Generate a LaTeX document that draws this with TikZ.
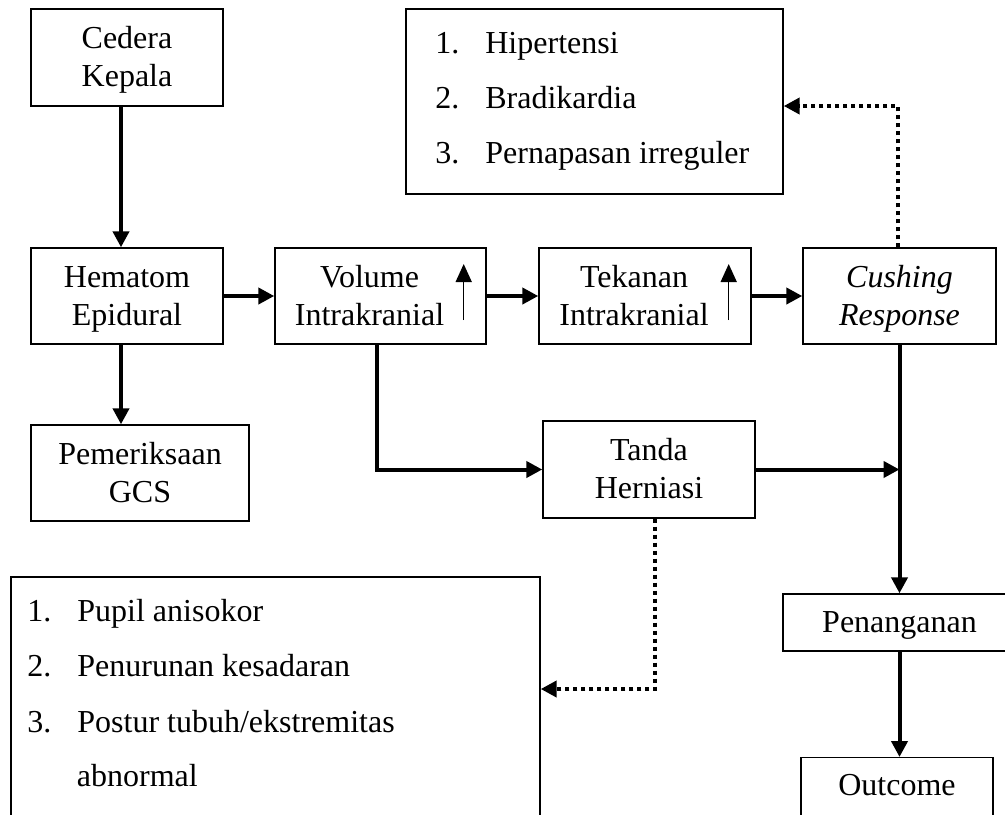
\documentclass[tikz,border=0pt]{standalone}
\usepackage{fontspec}
\setmainfont{Liberation Serif}
\usetikzlibrary{arrows.meta}
\newcommand{\stratas}{\rule{0pt}{14pt}}
\newcommand{\strbawah}{\rule[-3.6pt]{0pt}{0pt}}

\begin{document}
\begin{tikzpicture}[x=0.5pt,y=-0.5pt,
    box/.style={draw, line width=0.7pt, inner sep=0pt, align=center, font=\fontsize{16}{19}\selectfont},
    txt/.style={inner sep=0pt, align=center, font=\fontsize{16}{19}\selectfont},
    item/.style={inner sep=0pt, anchor=base west, font=\fontsize{16}{19}\selectfont},
    arr/.style={line width=2pt, -{Triangle[length=8pt,width=8pt]}},
    dotarr/.style={line width=2pt, dash pattern=on 2pt off 2pt, -{Triangle[length=8pt,width=8pt]}},
    naik/.style={line width=0.75pt, -{Triangle[length=9pt,width=8pt]}}]
    \useasboundingbox (0,0) rectangle (1005,814);
    \clip (0,0) rectangle (1005,814);
    %% main row
    \node[box, minimum width=96pt, minimum height=48.5pt] (cedera) at (127,57.5) {\stratas Cedera\\Kepala\strbawah};
    \node[box, minimum width=96pt, minimum height=48pt] (hem) at (127,296) {\stratas Hematom\\Epidural\strbawah};
    \node[box, minimum width=105.5pt, minimum height=48pt] (vol) at (380.5,296) {};
    \node[txt] (voltxt) at ([xshift=-5.5pt]vol.center) {\stratas Volume\\Intrakranial\strbawah};
    \node[box, minimum width=106pt, minimum height=48pt] (tek) at (645,296) {};
    \node[txt] (tektxt) at ([xshift=-5.5pt]tek.center) {\stratas Tekanan\\Intrakranial\strbawah};
    \node[box, minimum width=96.5pt, minimum height=48pt] (cush) at (899.5,296) {\stratas\textit{Cushing}\\\textit{Response}\strbawah};
    %% lower boxes
    \node[box, minimum width=109pt, minimum height=48pt] (gcs) at (140,473) {\stratas Pemeriksaan\\GCS\strbawah};
    \node[box, minimum width=106pt, minimum height=48.5pt] (tanda) at (649,469.5) {\stratas Tanda\\Herniasi\strbawah};
    \node[box, minimum width=116.5pt, minimum height=28.5pt] (penang) at (899.5,622.5) {\stratas Penanganan\strbawah};
    \node[box, anchor=north, minimum width=96pt, text height=19pt, text depth=20pt] (outcome) at (897,757) {Outcome};
    %% list boxes
    \node[box, minimum width=188.5pt, minimum height=92.5pt] (gejala) at (594.5,101.5) {};
    \foreach \i/\t/\y in {1/Hipertensi/53, 2/Bradikardia/108, 3/Pernapasan irreguler/163}
        \node[item] (gej\i) at (435,\y) {\makebox[25pt][l]{\i.}\t};
    \node[box, minimum width=264.5pt, minimum height=141.5pt] (tandalist) at (275.5,718.5) {};
    \foreach \i/\t/\y in {1/Pupil anisokor/621.7, 2/Penurunan kesadaran/676.7, 3/{Postur tubuh/ekstremitas}/732}
        \node[item] (her\i) at (27,\y) {\makebox[25pt][l]{\i.}\t};
    \node[item] (her4) at (76.5,786.7) {abnormal};
    %% next \draw are the solid arrows
    \draw[arr] ([xshift=-3pt]cedera.south) -- ([xshift=-3pt]hem.north);
    \draw[arr] ([xshift=-3pt]hem.south) -- ([xshift=-3pt]hem.south |- gcs.north);
    \draw[arr] (hem) -- (vol);
    \draw[arr] (vol) -- (tek);
    \draw[arr] (tek) -- (cush);
    \draw[arr] ([xshift=-2pt]vol.south) |- (tanda.west);
    \draw[arr] (tanda.east) -- (tanda.east -| cush.south);
    \draw[arr] (cush.south) -- (penang.north);
    \draw[arr] (penang.south) -- (penang.south |- outcome.north);
    %% rising arrows in the boxes
    \draw[naik] ([xshift=-11.5pt,yshift=-12pt]vol.east) -- ([xshift=-11.5pt,yshift=16pt]vol.east);
    \draw[naik] ([xshift=-11.5pt,yshift=-12pt]tek.east) -- ([xshift=-11.5pt,yshift=16pt]tek.east);
    %% dotted arrows to the lists
    \draw[dotarr] ([xshift=-0.75pt]cush.north) |- ([yshift=-2.25pt]gejala.east);
    \draw[dotarr] ([xshift=3pt]tanda.south) |- ([yshift=14.75pt]tandalist.east);
\end{tikzpicture}
\end{document}
